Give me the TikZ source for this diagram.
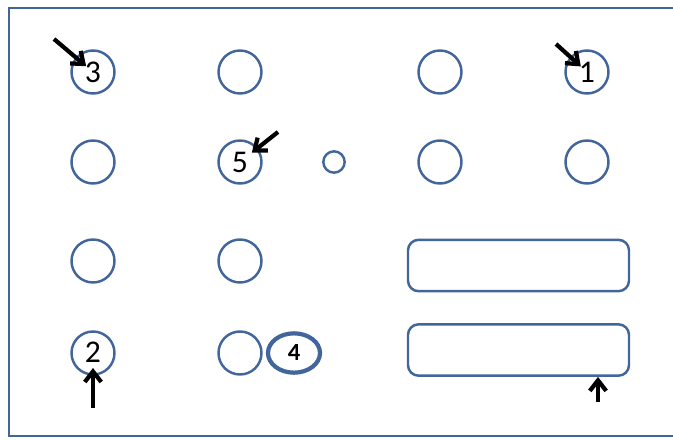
\documentclass[tikz,border=0pt]{standalone}
\usepackage{fontspec}
\setmainfont{Carlito}
\usetikzlibrary{arrows.meta,shapes.geometric}

\definecolor{rimblue}{RGB}{66,102,156}

\begin{document}
\begin{tikzpicture}[
    x=0.03cm, y=-0.03cm,
    >={Straight Barb[length=9pt,width=14pt]},
    every node/.style={font=\fontsize{27}{30}\selectfont},
    hole/.style={
        circle,
        draw=rimblue,
        line width=2.1pt,
        minimum size=1.29cm,
        inner sep=0pt
    },
    pinhole/.style={circle, draw=rimblue, line width=2.1pt, minimum size=0.64cm, inner sep=0pt},
    slot/.style={
        draw=rimblue,
        line width=2.1pt,
        rounded corners=9pt,
        minimum width=6.63cm,
        minimum height=1.54cm
    },
    pointer/.style={->, line width=3.6pt, black}
]
\useasboundingbox (0,0) rectangle (673,439);

% panel outline
\draw[rimblue, line width=2pt] (673,8) -- (9,8) -- (9,436) -- (673,436);

% first row
\node[hole] (c3) at (93,72) {\raisebox{-3pt}{3}};
\node[hole] (r1b) at (240,72) {};
\node[hole] (r1c) at (440,72) {};
\node[hole] (c1) at (587,72) {\raisebox{-4pt}{1}};

% second row
\node[hole] (r2a) at (93,162) {};
\node[hole] (c5) at (240,162) {5};
\node[pinhole] (pin) at (334,162) {};
\node[hole] (r2c) at (440,162) {};
\node[hole] (r2d) at (587,162) {};

% third row
\node[hole] (r3a) at (93,261) {};
\node[hole] (r3b) at (240,261) {};
\node[slot] (s1) at (518.5,265.5) {};

% fourth row
\node[hole] (c2) at (93,353) {\raisebox{2pt}{2}};
\node[hole] (r4b) at (240,353) {};
\node[ellipse, draw=rimblue, line width=3.6pt, minimum width=1.56cm, minimum height=1.18cm,
      inner sep=0pt, font=\fontsize{21}{24}\selectfont\bfseries] (c4) at (294,353) {4};
\node[slot] (s2) at (518.5,350) {};

% arrows
\coordinate (t3) at (54,39);
\coordinate (t1) at (556,44);
\coordinate (t5) at (278,132);
\coordinate (t2) at (93,408);
\coordinate (t6) at (598,402);

\draw[pointer, shorten >=0.27cm] (t3) -- (c3.center);
\draw[pointer, shorten >=0.25cm] (t1) -- (c1.center);
\draw[pointer, shorten >=0.45cm] (t5) -- (c5.center);
\draw[pointer, shorten >=0.45cm] (t2) -- (c2.center);
\draw[pointer] (t6) -- (t6 |- s2.south);

\end{tikzpicture}
\end{document}
